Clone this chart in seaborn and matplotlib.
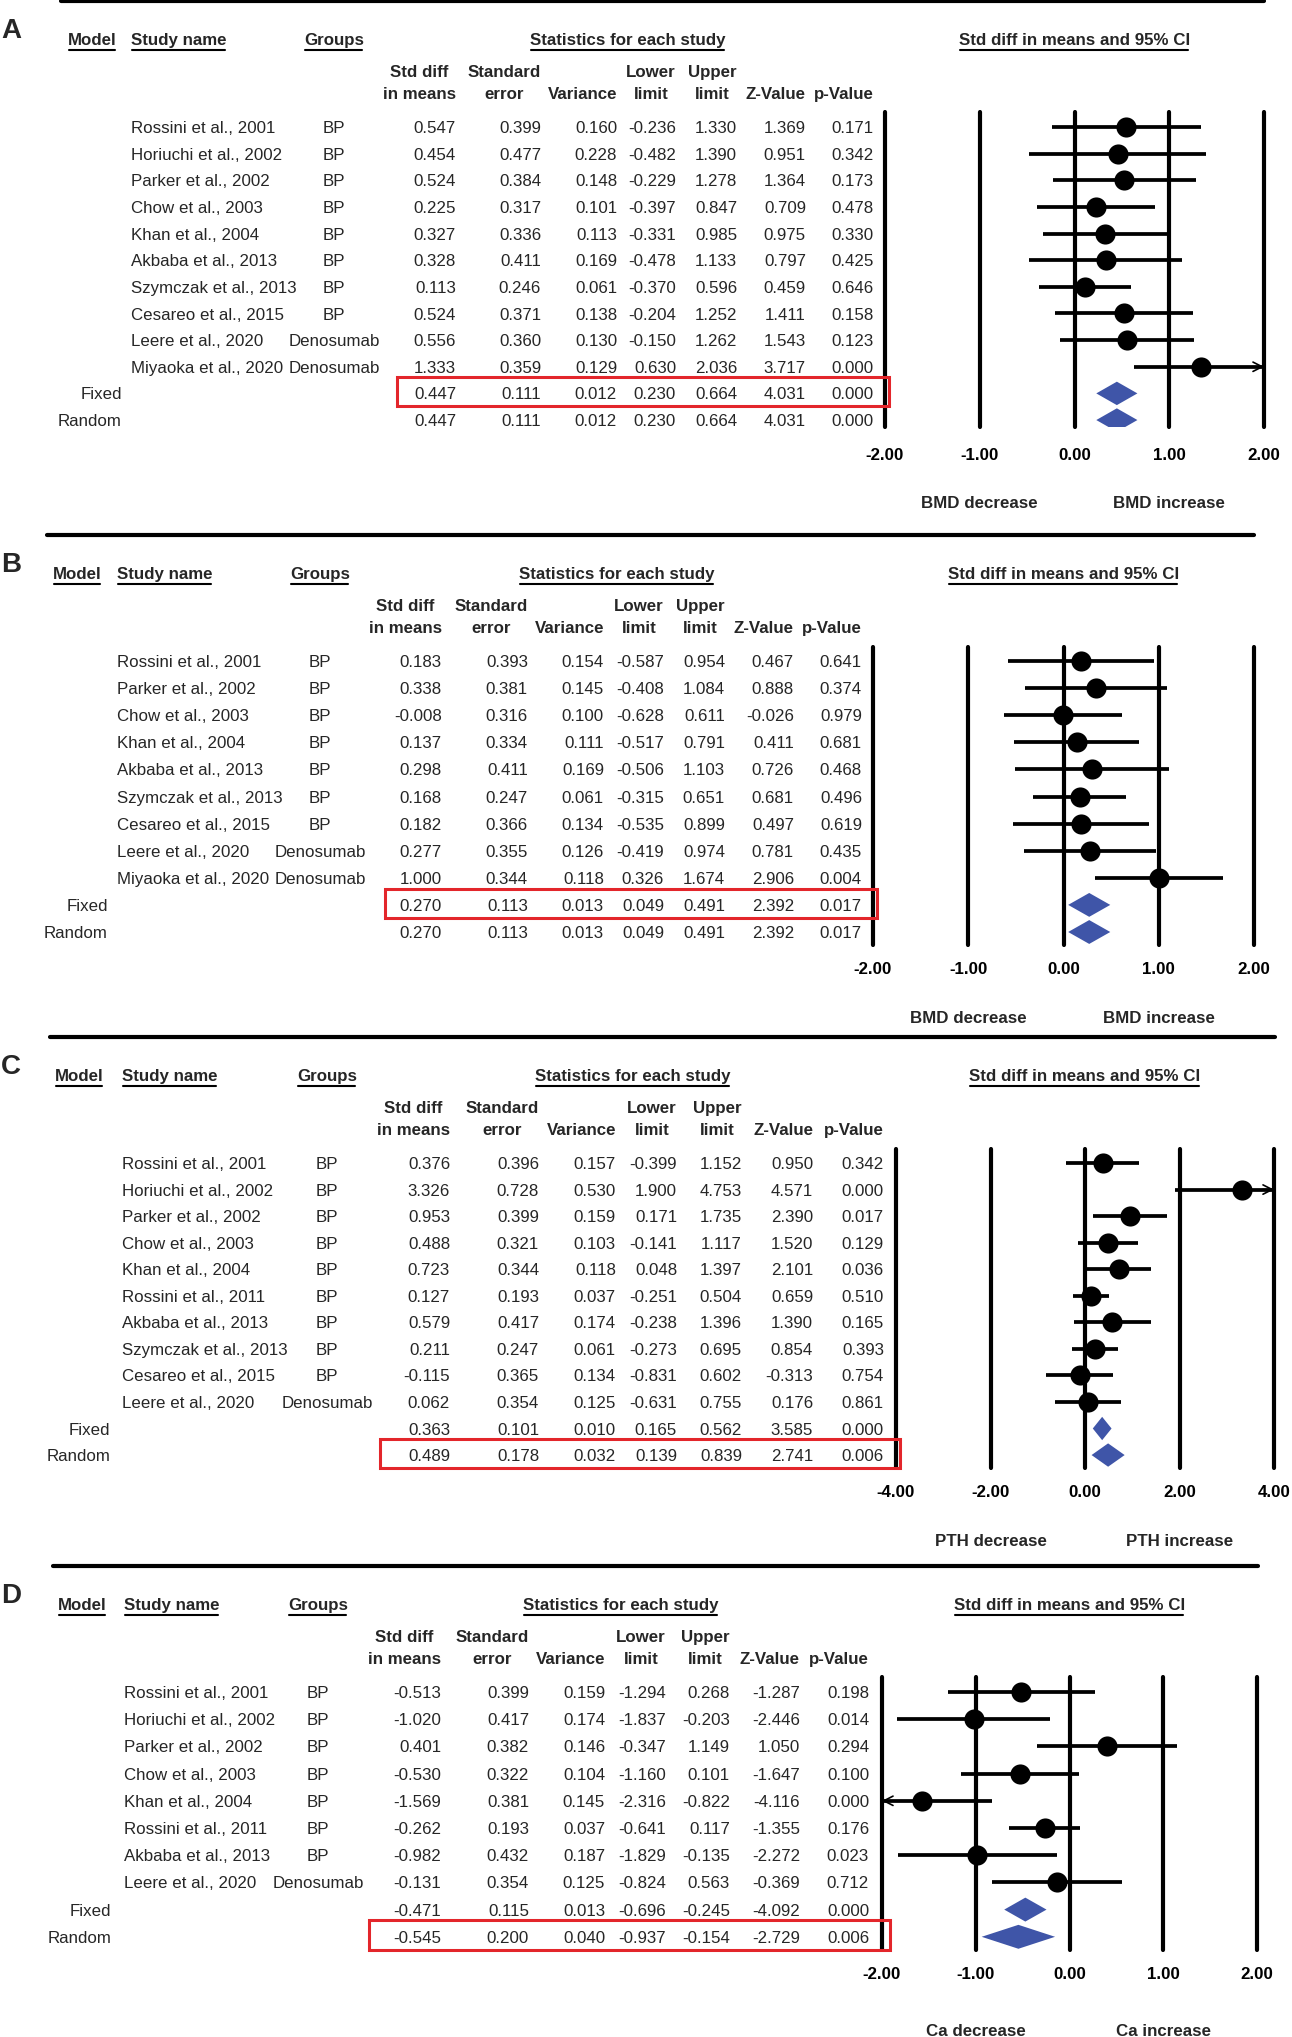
import matplotlib
matplotlib.use("Agg")
import matplotlib.pyplot as plt
import seaborn as sns
import pandas as pd
from matplotlib.transforms import blended_transform_factory, ScaledTranslation
from matplotlib.lines import Line2D
from matplotlib.patches import Rectangle

# ---- data ----
studies_a = ["Rossini et al., 2001", "Horiuchi et al., 2002", "Parker et al., 2002",
             "Chow et al., 2003", "Khan et al., 2004", "Akbaba et al., 2013",
             "Szymczak et al., 2013", "Cesareo et al., 2015", "Leere et al., 2020",
             "Miyaoka et al., 2020"]
groups_a = ["BP"] * 8 + ["Denosumab"] * 2
std_a = [0.547, 0.454, 0.524, 0.225, 0.327, 0.328, 0.113, 0.524, 0.556, 1.333, 0.447, 0.447]
se_a = [0.399, 0.477, 0.384, 0.317, 0.336, 0.411, 0.246, 0.371, 0.360, 0.359, 0.111, 0.111]
var_a = [0.160, 0.228, 0.148, 0.101, 0.113, 0.169, 0.061, 0.138, 0.130, 0.129, 0.012, 0.012]
lo_a = [-0.236, -0.482, -0.229, -0.397, -0.331, -0.478, -0.370, -0.204, -0.150, 0.630, 0.230, 0.230]
up_a = [1.330, 1.390, 1.278, 0.847, 0.985, 1.133, 0.596, 1.252, 1.262, 2.036, 0.664, 0.664]
z_a = [1.369, 0.951, 1.364, 0.709, 0.975, 0.797, 0.459, 1.411, 1.543, 3.717, 4.031, 4.031]
p_a = [0.171, 0.342, 0.173, 0.478, 0.330, 0.425, 0.646, 0.158, 0.123, 0.000, 0.000, 0.000]

studies_b = ["Rossini et al., 2001", "Parker et al., 2002", "Chow et al., 2003",
             "Khan et al., 2004", "Akbaba et al., 2013", "Szymczak et al., 2013",
             "Cesareo et al., 2015", "Leere et al., 2020", "Miyaoka et al., 2020"]
groups_b = ["BP"] * 7 + ["Denosumab"] * 2
std_b = [0.183, 0.338, -0.008, 0.137, 0.298, 0.168, 0.182, 0.277, 1.000, 0.270, 0.270]
se_b = [0.393, 0.381, 0.316, 0.334, 0.411, 0.247, 0.366, 0.355, 0.344, 0.113, 0.113]
var_b = [0.154, 0.145, 0.100, 0.111, 0.169, 0.061, 0.134, 0.126, 0.118, 0.013, 0.013]
lo_b = [-0.587, -0.408, -0.628, -0.517, -0.506, -0.315, -0.535, -0.419, 0.326, 0.049, 0.049]
up_b = [0.954, 1.084, 0.611, 0.791, 1.103, 0.651, 0.899, 0.974, 1.674, 0.491, 0.491]
z_b = [0.467, 0.888, -0.026, 0.411, 0.726, 0.681, 0.497, 0.781, 2.906, 2.392, 2.392]
p_b = [0.641, 0.374, 0.979, 0.681, 0.468, 0.496, 0.619, 0.435, 0.004, 0.017, 0.017]

studies_c = ["Rossini et al., 2001", "Horiuchi et al., 2002", "Parker et al., 2002",
             "Chow et al., 2003", "Khan et al., 2004", "Rossini et al., 2011",
             "Akbaba et al., 2013", "Szymczak et al., 2013", "Cesareo et al., 2015",
             "Leere et al., 2020"]
groups_c = ["BP"] * 9 + ["Denosumab"]
std_c = [0.376, 3.326, 0.953, 0.488, 0.723, 0.127, 0.579, 0.211, -0.115, 0.062, 0.363, 0.489]
se_c = [0.396, 0.728, 0.399, 0.321, 0.344, 0.193, 0.417, 0.247, 0.365, 0.354, 0.101, 0.178]
var_c = [0.157, 0.530, 0.159, 0.103, 0.118, 0.037, 0.174, 0.061, 0.134, 0.125, 0.010, 0.032]
lo_c = [-0.399, 1.900, 0.171, -0.141, 0.048, -0.251, -0.238, -0.273, -0.831, -0.631, 0.165, 0.139]
up_c = [1.152, 4.753, 1.735, 1.117, 1.397, 0.504, 1.396, 0.695, 0.602, 0.755, 0.562, 0.839]
z_c = [0.950, 4.571, 2.390, 1.520, 2.101, 0.659, 1.390, 0.854, -0.313, 0.176, 3.585, 2.741]
p_c = [0.342, 0.000, 0.017, 0.129, 0.036, 0.510, 0.165, 0.393, 0.754, 0.861, 0.000, 0.006]

studies_d = ["Rossini et al., 2001", "Horiuchi et al., 2002", "Parker et al., 2002",
             "Chow et al., 2003", "Khan et al., 2004", "Rossini et al., 2011",
             "Akbaba et al., 2013", "Leere et al., 2020"]
groups_d = ["BP"] * 7 + ["Denosumab"]
std_d = [-0.513, -1.020, 0.401, -0.530, -1.569, -0.262, -0.982, -0.131, -0.471, -0.545]
se_d = [0.399, 0.417, 0.382, 0.322, 0.381, 0.193, 0.432, 0.354, 0.115, 0.200]
var_d = [0.159, 0.174, 0.146, 0.104, 0.145, 0.037, 0.187, 0.125, 0.013, 0.040]
lo_d = [-1.294, -1.837, -0.347, -1.160, -2.316, -0.641, -1.829, -0.824, -0.696, -0.937]
up_d = [0.268, -0.203, 1.149, 0.101, -0.822, 0.117, -0.135, 0.563, -0.245, -0.154]
z_d = [-1.287, -2.446, 1.050, -1.647, -4.116, -1.355, -2.272, -0.369, -4.092, -2.729]
p_d = [0.198, 0.014, 0.294, 0.100, 0.000, 0.176, 0.023, 0.712, 0.000, 0.006]

ticks_bmd = [-2, -1, 0, 1, 2]
ticks_pth = [-4, -2, 0, 2, 4]
col_heads = [("Std diff", "in means"), ("Standard", "error"), ("", "Variance"),
             ("Lower", "limit"), ("Upper", "limit"), ("", "Z-Value"), ("", "p-Value")]

# ---- layout in pixels of the 1292x2037 canvas ----
W, H, DPI = 1292, 2037, 100
FS = 12.2
HALF_CAP = 0.358 * FS * DPI / 72
RED = "#E3262B"
BLUE = "#3F55A8"

LAYOUT = {
    "A": dict(first=127, step=26.64, top=112, bot=427, x0=885, x1=1264, names=131, fixedr=122,
              group=334, cols=[456, 541, 617, 676, 737, 806, 874], model=68, stats=628,
              box=(397, 889), sep=(61, 1264), lab=502, pad=15),
    "B": dict(first=661, step=27.1, top=647, bot=945, x0=873, x1=1254, names=117, fixedr=108,
              group=320, cols=[442, 528, 604, 664, 725, 794, 862], model=53, stats=617,
              box=(385, 877), sep=(47, 1254), lab=1017, pad=12),
    "C": dict(first=1163, step=26.55, top=1149, bot=1468, x0=896, x1=1274, names=122, fixedr=110,
              group=327, cols=[450, 539, 616, 677, 742, 813, 884], model=55, stats=633,
              box=(380, 900), sep=(50, 1275), lab=1540, pad=12),
    "D": dict(first=1692, step=27.2, top=1677, bot=1950, x0=882, x1=1257, names=124, fixedr=111,
              group=318, cols=[441, 529, 605, 666, 730, 800, 869], model=58, stats=621,
              box=(369, 890), sep=(53, 1258), lab=2030, pad=12.5),
}

sns.set_theme(style="white")
plt.rcParams["font.family"] = ["Liberation Sans", "DejaVu Sans"]

fig = plt.figure(figsize=(W / DPI, H / DPI), dpi=DPI)
underlined = []


def fx(px):
    return px / W


def fy(py):
    return 1 - py / H


def draw_panel(letter, studies, groups, values, lo, up, ticks, effect, highlight):
    L = LAYOUT[letter]
    std = values[0]
    n = len(std)
    k = len(studies)
    last = L["first"] + (n - 1) * L["step"]

    # top separator and headers
    fig.add_artist(Line2D([fx(L["sep"][0]), fx(L["sep"][1])], [fy(L["first"] - 126)] * 2,
                          transform=fig.transFigure, color="black", lw=3.0))
    hy = fy(L["first"] - 88 + HALF_CAP)
    fig.text(fx(1), fy(L["first"] - 89), letter, fontsize=20, fontweight="bold", va="baseline")
    for x, s, ha in [(L["model"], "Model", "left"), (L["names"], "Study name", "left"),
                     (L["group"], "Groups", "center"), (L["stats"], "Statistics for each study", "center")]:
        underlined.append((fig.text(fx(x), hy, s, ha=ha, va="baseline", fontsize=FS,
                                    fontweight="bold"), L["first"] - 77))
    for x, (l1, l2) in zip(L["cols"], col_heads):
        s = l2 if not l1 else l1 + "\n" + l2
        fig.text(fx(x), fy(L["first"] - 34 + HALF_CAP), s, ha="right", ma="center",
                 va="baseline", fontsize=FS, fontweight="bold", linespacing=1.55)

    # forest axes
    ax = fig.add_axes([fx(L["x0"]), fy(L["bot"]), fx(L["x1"]) - fx(L["x0"]),
                       (L["bot"] - L["top"]) / H])
    ax.patch.set_alpha(0)
    for t in ticks:
        ax.axvline(t, color="black", lw=3.0, clip_on=False, zorder=1)
    rows = list(range(k))
    ax.hlines(rows, lo[:k], up[:k], color="black", lw=2.7, zorder=2)
    df = pd.DataFrame({"effect": std[:k], "row": rows})
    sns.scatterplot(data=df, x="effect", y="row", ax=ax, color="black", s=210,
                    linewidth=0, zorder=4, legend=False)
    span = ticks[-1] - ticks[0]
    for r in rows:
        for lim, over in [(ticks[-1], up[r] > ticks[-1]), (ticks[0], lo[r] < ticks[0])]:
            if over:
                start = lim - 0.03 * span if lim > 0 else lim + 0.03 * span
                ax.annotate("", xy=(lim, r), xytext=(start, r), annotation_clip=False,
                            arrowprops=dict(arrowstyle="->,head_length=0.55,head_width=0.28",
                                            lw=1.2, color="black", shrinkA=0, shrinkB=0,
                                            mutation_scale=12))
    for r in range(k, n):
        ax.fill([lo[r], std[r], up[r], std[r]], [r, r - 0.44, r, r + 0.44],
                color=BLUE, lw=0, zorder=3)

    ax.set_xlim(ticks[0], ticks[-1])
    ax.set_ylim(n - 1 + (L["bot"] - last) / L["step"], -(L["first"] - L["top"]) / L["step"])
    ax.set_xticks(ticks)
    ax.set_xticklabels([f"{t:.2f}" for t in ticks], fontweight="bold", fontsize=FS)
    ax.tick_params(axis="x", length=0, pad=L["pad"], colors="black")
    ax.set_yticks([])
    ax.set_xlabel("")
    ax.set_ylabel("")
    for sp in ax.spines.values():
        sp.set_visible(False)
    ax.grid(False)

    xd = blended_transform_factory(ax.transData, fig.transFigure)
    underlined.append((ax.text(0, hy, "Std diff in means and 95% CI", transform=xd, ha="center",
                               va="baseline", fontsize=FS, fontweight="bold"), L["first"] - 77))
    lab_y = fy(L["lab"] + HALF_CAP)
    ax.text(ticks[1], lab_y, f"{effect} decrease", transform=xd, ha="center", va="baseline",
            fontsize=FS, fontweight="bold")
    ax.text(ticks[3], lab_y, f"{effect} increase", transform=xd, ha="center", va="baseline",
            fontsize=FS, fontweight="bold")

    # table rows
    tr = blended_transform_factory(fig.transFigure, ax.transData) + \
        ScaledTranslation(0, -HALF_CAP / DPI, fig.dpi_scale_trans)
    for r in range(n):
        if r < k:
            ax.text(fx(L["names"]), r, studies[r], transform=tr, va="baseline", fontsize=FS)
            ax.text(fx(L["group"]), r, groups[r], transform=tr, va="baseline", ha="center",
                    fontsize=FS)
        else:
            ax.text(fx(L["fixedr"]), r, "Fixed" if r == k else "Random", transform=tr,
                    va="baseline", ha="right", fontsize=FS)
        for x, col in zip(L["cols"], values):
            ax.text(fx(x), r, f"{col[r]:.3f}", transform=tr, va="baseline", ha="right",
                    fontsize=FS)

    hr = k if highlight == "Fixed" else k + 1
    box_tr = blended_transform_factory(fig.transFigure, ax.transData)
    ax.add_patch(Rectangle((fx(L["box"][0]), hr - 0.6), fx(L["box"][1]) - fx(L["box"][0]), 1.09,
                           transform=box_tr, fill=False, ec=RED, lw=2.2, clip_on=False, zorder=5))


draw_panel("A", studies_a, groups_a, [std_a, se_a, var_a, lo_a, up_a, z_a, p_a],
           lo_a, up_a, ticks_bmd, "BMD", "Fixed")
draw_panel("B", studies_b, groups_b, [std_b, se_b, var_b, lo_b, up_b, z_b, p_b],
           lo_b, up_b, ticks_bmd, "BMD", "Fixed")
draw_panel("C", studies_c, groups_c, [std_c, se_c, var_c, lo_c, up_c, z_c, p_c],
           lo_c, up_c, ticks_pth, "PTH", "Random")
draw_panel("D", studies_d, groups_d, [std_d, se_d, var_d, lo_d, up_d, z_d, p_d],
           lo_d, up_d, ticks_bmd, "Ca", "Random")

# underline the bold headers
renderer = fig.canvas.get_renderer()
for t, py in underlined:
    bb = t.get_window_extent(renderer)
    fig.add_artist(Line2D([fx(bb.x0 + 1), fx(bb.x1 - 2)], [fy(py)] * 2,
                          transform=fig.transFigure, color="black", lw=1.5))

fig.savefig("out.png", dpi=DPI)
